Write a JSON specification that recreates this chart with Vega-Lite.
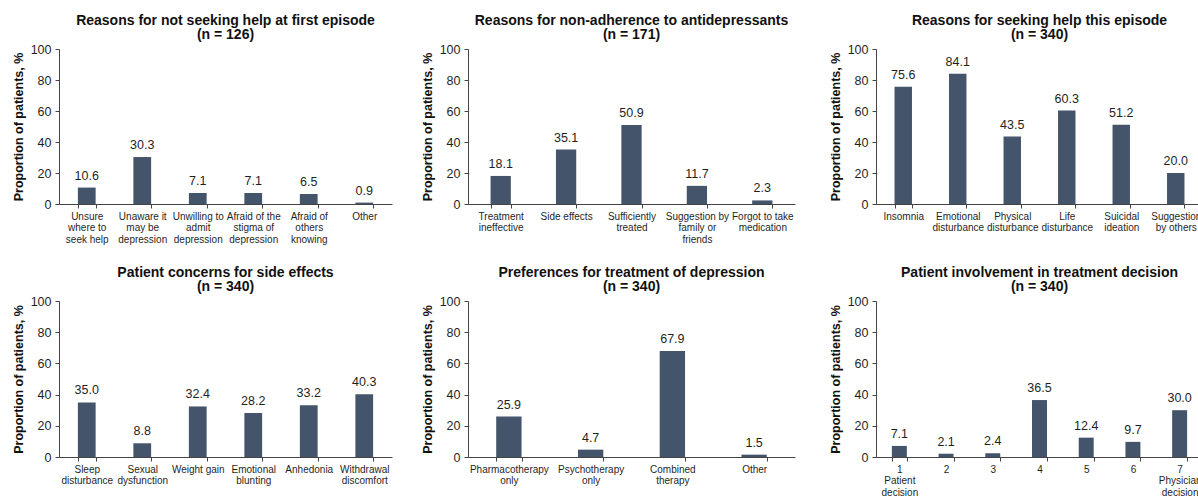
{
  "$schema": "https://vega.github.io/schema/vega-lite/v6.json",
  "background": "white",
  "padding": {"left": 12, "top": 13, "right": 0, "bottom": 0},
  "datasets": {
    "p1": [
      {"category": "Unsure|where to|seek help", "value": 10.6},
      {"category": "Unaware it|may be|depression", "value": 30.3},
      {"category": "Unwilling to|admit|depression", "value": 7.1},
      {"category": "Afraid of the|stigma of|depression", "value": 7.1},
      {"category": "Afraid of|others|knowing", "value": 6.5},
      {"category": "Other", "value": 0.9}
    ],
    "p2": [
      {"category": "Treatment|ineffective", "value": 18.1},
      {"category": "Side effects", "value": 35.1},
      {"category": "Sufficiently|treated", "value": 50.9},
      {"category": "Suggestion by|family or|friends", "value": 11.7},
      {"category": "Forgot to take|medication", "value": 2.3}
    ],
    "p3": [
      {"category": "Insomnia", "value": 75.6},
      {"category": "Emotional|disturbance", "value": 84.1},
      {"category": "Physical|disturbance", "value": 43.5},
      {"category": "Life|disturbance", "value": 60.3},
      {"category": "Suicidal|ideation", "value": 51.2},
      {"category": "Suggestion|by others", "value": 20.0}
    ],
    "p4": [
      {"category": "Sleep|disturbance", "value": 35.0},
      {"category": "Sexual|dysfunction", "value": 8.8},
      {"category": "Weight gain", "value": 32.4},
      {"category": "Emotional|blunting", "value": 28.2},
      {"category": "Anhedonia", "value": 33.2},
      {"category": "Withdrawal|discomfort", "value": 40.3}
    ],
    "p5": [
      {"category": "Pharmacotherapy|only", "value": 25.9},
      {"category": "Psychotherapy|only", "value": 4.7},
      {"category": "Combined|therapy", "value": 67.9},
      {"category": "Other", "value": 1.5}
    ],
    "p6": [
      {"category": "1|Patient|decision", "value": 7.1},
      {"category": "2", "value": 2.1},
      {"category": "3", "value": 2.4},
      {"category": "4", "value": 36.5},
      {"category": "5", "value": 12.4},
      {"category": "6", "value": 9.7},
      {"category": "7|Physician|decision", "value": 30.0}
    ]
  },
  "config": {
    "font": "Liberation Sans",
    "view": {"stroke": null},
    "title": {"fontSize": 14, "fontWeight": "bold", "color": "#111111", "anchor": "middle", "frame": "group", "lineHeight": 14, "offset": 1.5},
    "axisX": {
      "labelAngle": 0, "labelExpr": "split(datum.label, '|')",
      "labelFontSize": 10, "labelLineHeight": 11.5, "tickBand": "extent", "tickSize": 4,
      "domainColor": "#444444", "tickColor": "#444444", "labelPadding": 3, "labelColor": "#1f1f1f",
      "labelOverlap": false, "labelBound": false, "labelLimit": 200
    },
    "axisY": {
      "grid": false, "values": [0, 20, 40, 60, 80, 100], "labelFontSize": 12.5, "labelColor": "#1f1f1f",
      "titleFontSize": 12.5, "titleFontWeight": "bold", "titleColor": "#111111",
      "tickSize": 4, "labelPadding": 4, "titlePadding": 5,
      "domainColor": "#444444", "tickColor": "#444444"
    },
    "bar": {"color": "#44546a"},
    "text": {"fontSize": 12.5, "color": "#1f1f1f", "dy": -8, "baseline": "alphabetic"}
  },
  "vconcat": [
    {
      "spacing": 29,
      "hconcat": [
        {
          "width": 333, "height": 155,
          "title": {"text": ["Reasons for not seeking help at first episode", "(n = 126)"]},
          "data": {"name": "p1"},
          "encoding": {
            "x": {"field": "category", "type": "nominal", "sort": null, "title": null, "scale": {"paddingInner": 0.68, "paddingOuter": 0.34}},
            "y": {"field": "value", "type": "quantitative", "title": "Proportion of patients, %", "scale": {"domain": [0, 100]}}
          },
          "layer": [
            {"mark": "bar"},
            {"mark": "text", "encoding": {"text": {"field": "value", "type": "quantitative", "format": ".1f"}}}
          ]
        },
        {
          "spacing": 34,
          "hconcat": [
            {
              "width": 327, "height": 155,
              "title": {"text": ["Reasons for non-adherence to antidepressants", "(n = 171)"]},
              "data": {"name": "p2"},
              "encoding": {
                "x": {"field": "category", "type": "nominal", "sort": null, "title": null, "scale": {"paddingInner": 0.69, "paddingOuter": 0.345}},
                "y": {"field": "value", "type": "quantitative", "title": "Proportion of patients, %", "scale": {"domain": [0, 100]}}
              },
              "layer": [
                {"mark": "bar"},
                {"mark": "text", "encoding": {"text": {"field": "value", "type": "quantitative", "format": ".1f"}}}
              ]
            },
            {
              "width": 327, "height": 155,
              "title": {"text": ["Reasons for seeking help this episode", "(n = 340)"]},
              "data": {"name": "p3"},
              "encoding": {
                "x": {"field": "category", "type": "nominal", "sort": null, "title": null, "scale": {"paddingInner": 0.68, "paddingOuter": 0.34}},
                "y": {"field": "value", "type": "quantitative", "title": "Proportion of patients, %", "scale": {"domain": [0, 100]}}
              },
              "layer": [
                {"mark": "bar"},
                {"mark": "text", "encoding": {"text": {"field": "value", "type": "quantitative", "format": ".1f"}}}
              ]
            }
          ]
        }
      ]
    },
    {
      "spacing": 29,
      "hconcat": [
        {
          "width": 333, "height": 156,
          "title": {"text": ["Patient concerns for side effects", "(n = 340)"]},
          "data": {"name": "p4"},
          "encoding": {
            "x": {"field": "category", "type": "nominal", "sort": null, "title": null, "scale": {"paddingInner": 0.68, "paddingOuter": 0.34}},
            "y": {"field": "value", "type": "quantitative", "title": "Proportion of patients, %", "scale": {"domain": [0, 100]}}
          },
          "layer": [
            {"mark": "bar"},
            {"mark": "text", "encoding": {"text": {"field": "value", "type": "quantitative", "format": ".1f"}}}
          ]
        },
        {
          "spacing": 34,
          "hconcat": [
            {
              "width": 327, "height": 156,
              "title": {"text": ["Preferences for treatment of depression", "(n = 340)"]},
              "data": {"name": "p5"},
              "encoding": {
                "x": {"field": "category", "type": "nominal", "sort": null, "title": null, "scale": {"paddingInner": 0.69, "paddingOuter": 0.345}},
                "y": {"field": "value", "type": "quantitative", "title": "Proportion of patients, %", "scale": {"domain": [0, 100]}}
              },
              "layer": [
                {"mark": "bar"},
                {"mark": "text", "encoding": {"text": {"field": "value", "type": "quantitative", "format": ".1f"}}}
              ]
            },
            {
              "width": 327, "height": 156,
              "title": {"text": ["Patient involvement in treatment decision", "(n = 340)"]},
              "data": {"name": "p6"},
              "encoding": {
                "x": {"field": "category", "type": "nominal", "sort": null, "title": null, "scale": {"paddingInner": 0.68, "paddingOuter": 0.34}},
                "y": {"field": "value", "type": "quantitative", "title": "Proportion of patients, %", "scale": {"domain": [0, 100]}}
              },
              "layer": [
                {"mark": "bar"},
                {"mark": "text", "encoding": {"text": {"field": "value", "type": "quantitative", "format": ".1f"}}}
              ]
            }
          ]
        }
      ]
    }
  ],
  "spacing": 21
}
